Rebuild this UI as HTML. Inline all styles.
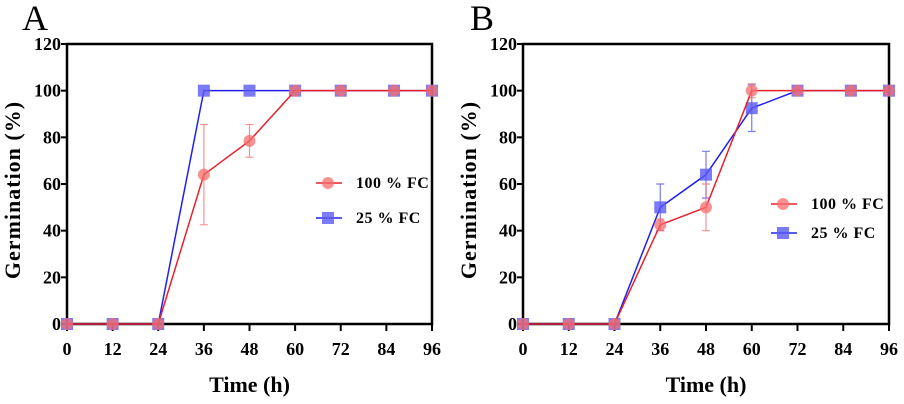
<!DOCTYPE html>
<html><head><meta charset="utf-8"><style>
html,body{margin:0;padding:0;background:#fff;}
svg{display:block;font-family:"Liberation Serif",serif;}
</style></head><body>
<svg id="chart" width="904" height="404"></svg>
<script>
const times = [0,12,24,36,48,60,72,86,96];
const xTicks = [0,12,24,36,48,60,72,84,96];
const yTicks = [0,20,40,60,80,100,120];
const aRed = [0,0,0,64,78.5,100,100,100,100];
const aRedErr = [0,0,0,21.5,7,0,0,0,0];
const aBlue = [0,0,0,100,100,100,100,100,100];
const aBlueErr = [0,0,0,0,0,0,0,0,0];
const bRed = [0,0,0,42.5,50,100,100,100,100];
const bRedErr = [0,0,0,2.5,10,3,0,0,0];
const bBlue = [0,0,0,50,64,92.5,100,100,100];
const bBlueErr = [0,0,0,10,10,10,0,0,0];

const NS="http://www.w3.org/2000/svg";
const svg=document.getElementById('chart');
function mk(tag,attrs,parent,text){const e=document.createElementNS(NS,tag);for(const k in attrs)e.setAttribute(k,attrs[k]);if(text!==undefined)e.textContent=text;(parent||svg).appendChild(e);return e;}

function panel(letter,x0,x1,red,redErr,blue,blueErr,legX,legY1,legY2,letterX){
  const y0=324,y1=44;
  const sx=v=>x0+(v/96)*(x1-x0);
  const sy=v=>y0-(v/120)*(y0-y1);
  const g=mk('g',{});
  
  
  let t=mk('text',{x:letterX,y:30,'font-size':36},g,letter);
  
  
  let ax=mk('path',{d:`M${x0},${y1}H${x1}V${y0}H${x0}Z`,fill:'none',stroke:'#000','stroke-width':2.5},g);
  
  
  yTicks.forEach(v=>{
    mk('line',{x1:x0-6,x2:x0,y1:sy(v),y2:sy(v),stroke:'#000','stroke-width':2},g);
    const l=mk('text',{x:x0-6,y:sy(v)+6,'font-size':18,'font-weight':'bold','text-anchor':'end'},g,v);
    
    
  });
  xTicks.forEach(v=>{
    mk('line',{x1:sx(v),x2:sx(v),y1:y0,y2:y0+7,stroke:'#000','stroke-width':2},g);
    const l=mk('text',{x:sx(v),y:y0+31,'font-size':18,'font-weight':'bold','text-anchor':'middle'},g,v);
    
    
  });
  const xt=mk('text',{x:(x0+x1)/2,y:392,'font-size':22,'font-weight':'bold','text-anchor':'middle'},g,'Time (h)');
  
  
  const cy=(y0+y1)/2+6, cx=x0-47;
  const yt=mk('text',{x:cx,y:cy,'font-size':22,'font-weight':'bold','text-anchor':'middle','letter-spacing':1,transform:`rotate(-90 ${cx} ${cy})`},g,'Germination (%)');
  
  
  function series(vals,errs,col,fill,shape,name){
    const sg=mk('g',{},g);
    
    
    vals.forEach((v,i)=>{ if(errs[i]>0){
      const xx=sx(times[i]);
      mk('path',{d:`M${xx},${sy(v-errs[i])}V${sy(v+errs[i])}M${xx-4},${sy(v-errs[i])}h8M${xx-4},${sy(v+errs[i])}h8`,stroke:fill,'stroke-width':1.2,fill:'none'},sg);
    }});
    mk('polyline',{points:vals.map((v,i)=>sx(times[i])+','+sy(v)).join(' '),fill:'none',stroke:col,'stroke-width':1.5},sg);
    vals.forEach((v,i)=>{
      const xx=sx(times[i]),yy=sy(v);
      let m= shape==='c'?mk('circle',{cx:xx,cy:yy,r:6,fill:fill},sg):mk('rect',{x:xx-6,y:yy-6,width:12,height:12,fill:fill},sg);
      
      
    });
  }
  series(blue,blueErr,'#2020ee','rgba(90,90,245,0.8)','s','series-25-fc');
  series(red,redErr,'#e8202a','rgba(245,110,110,0.75)','c','series-100-fc');
  const lg=mk('g',{},g);
  
  
  mk('line',{x1:legX-12,x2:legX+14,y1:legY1,y2:legY1,stroke:'#e8202a','stroke-width':1.5},lg);
  mk('circle',{cx:legX,cy:legY1,r:6,fill:'rgba(245,110,110,0.75)'},lg);
  mk('text',{x:legX+28,y:legY1+5,'font-size':16,'font-weight':'bold','letter-spacing':0.5},lg,'100 % FC');
  mk('line',{x1:legX-12,x2:legX+14,y1:legY2,y2:legY2,stroke:'#2020ee','stroke-width':1.5},lg);
  mk('rect',{x:legX-6,y:legY2-6,width:12,height:12,fill:'rgba(90,90,245,0.8)'},lg);
  mk('text',{x:legX+28,y:legY2+5,'font-size':16,'font-weight':'bold','letter-spacing':0.5},lg,'25 % FC');
}
panel('A',67,432,aRed,aRedErr,aBlue,aBlueErr,328,183,218,22);
panel('B',523,889,bRed,bRedErr,bBlue,bBlueErr,783,204,233,470);
</script>
</body></html>
